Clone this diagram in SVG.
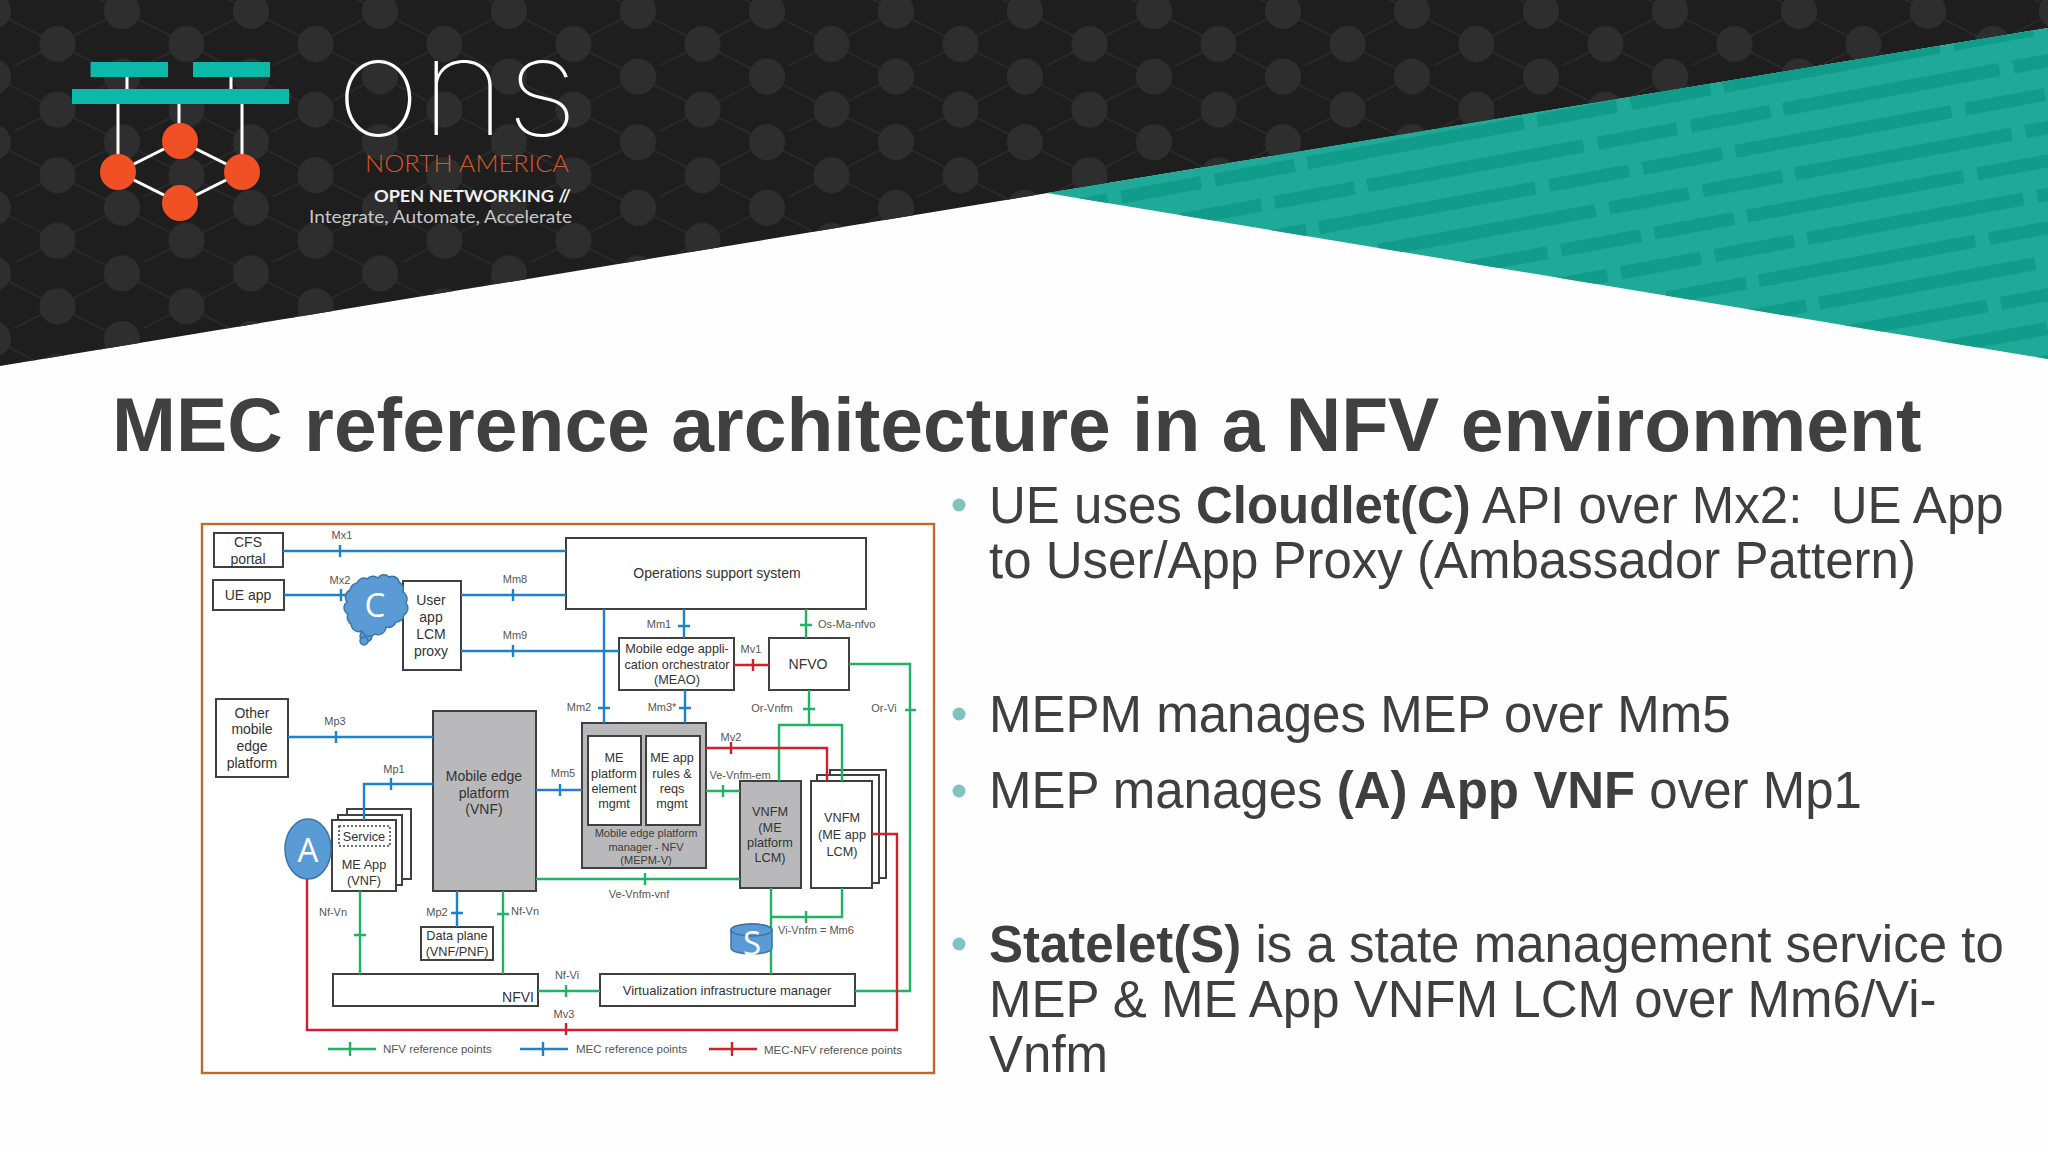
<svg xmlns="http://www.w3.org/2000/svg" width="2048" height="1152" viewBox="0 0 2048 1152">
<style>
text{font-family:"Liberation Sans",Arial,sans-serif;fill:#404040}
.t{font-size:14px;text-anchor:middle;fill:#333}
.s13{font-size:12.700px;text-anchor:middle;fill:#333}
.l{font-size:11px;text-anchor:middle;fill:#555}
.ld{font-size:11px;text-anchor:middle;fill:#3c3c3c}
.lg{font-size:11.500px;fill:#555}
.b{font-size:51px;fill:#3f3f3f}
.b tspan.s{font-weight:bold}
.n{fill:#fff;stroke:#404040;stroke-width:2}
.g{fill:#b9b9bb;stroke:#404040;stroke-width:2}
.c{fill:none;stroke-width:2.400;stroke-linejoin:miter}
.blue{stroke:#1f80cc}
.green{stroke:#1fb464}
.red{stroke:#d0202e}
.i{fill:#5b9bd5;stroke:#3b75aa;stroke-width:1.500}
.w{fill:#fff;font-family:"Open Sans",sans-serif;text-anchor:middle;font-size:33px}
.dot{fill:#7fc4c1}
.logo{fill:none;stroke:#fff;stroke-width:3}
</style>
<defs>
<pattern id="hex" width="129" height="65.600" patternUnits="userSpaceOnUse">
<path d="M-7,11 L57.500,44 L122,11 M57.500,44 L-7,76.600 M57.500,44 L122,76.600 M57.500,-21.600 L122,11 L186,-21.600 M122,11 L186,44" fill="none" stroke="#2a2a2a" stroke-width="1.800"/>
<circle cx="57.500" cy="44" r="18" fill="#2e2e2e"/>
<circle cx="122" cy="11" r="18" fill="#2e2e2e"/>
<circle cx="-7" cy="11" r="18" fill="#2e2e2e"/>
<circle cx="57.500" cy="-21.600" r="18" fill="#2e2e2e"/>
<circle cx="122" cy="76.600" r="18" fill="#2e2e2e"/>
<circle cx="-7" cy="76.600" r="18" fill="#2e2e2e"/>
</pattern>
<pattern id="dash" width="423" height="65.800" patternUnits="userSpaceOnUse" patternTransform="translate(1734,145) rotate(-10.400)">
<path fill="#119b8a" d="M0 0h220v13h-220zM234 0h81v13h-81zM329 0h81v13h-81zM55 33h220v13h-220zM289 33h81v13h-81zM384 33h39v13h-39zM0 33h42v13h-42z"/>
</pattern>
</defs>
<rect id="background" width="2048" height="1152" fill="#fefefe"/>
<g id="header">
<polygon points="0,0 2048,0 2048,28 0,366" fill="#1e1e1e"/>
<polygon points="0,0 2048,0 2048,28 0,366" fill="url(#hex)"/>
<polygon points="1047,193 2048,28 2048,359" fill="#1fa998"/>
<polygon points="1047,193 2048,28 2048,359" fill="url(#dash)"/>
</g>
<g id="logo">
<path class="logo" d="M127,77V89M231,77V89M118,104V172M179,104V141M242,104V172M118,172L180,141L242,172L180,203Z"/>
<rect x="90.500" y="62" width="77.500" height="15" fill="#0cb8a8"/>
<rect x="193" y="62" width="77" height="15" fill="#0cb8a8"/>
<rect x="72" y="89" width="217" height="15" fill="#0cb8a8"/>
<circle cx="118" cy="172" r="18" fill="#f05023"/>
<circle cx="180" cy="141" r="18" fill="#f05023"/>
<circle cx="242" cy="172" r="18" fill="#f05023"/>
<circle cx="180" cy="203" r="18" fill="#f05023"/>
<text x="336" y="135" style="font-family:Inter,sans-serif;font-weight:100;font-size:135px;fill:#fff" textLength="242" lengthAdjust="spacingAndGlyphs">ons</text>
<text x="365" y="172" style="font-family:Lato,sans-serif;font-weight:300;font-size:23px;fill:#d9552a" textLength="204" lengthAdjust="spacingAndGlyphs">NORTH AMERICA</text>
<text x="374" y="202" style="font-family:Lato,sans-serif;font-weight:bold;font-size:17px;fill:#f2f2f2" textLength="197" lengthAdjust="spacingAndGlyphs">OPEN NETWORKING //</text>
<text x="309" y="223" style="font-family:Lato,sans-serif;font-size:17px;fill:#c8c8c8" textLength="263" lengthAdjust="spacingAndGlyphs">Integrate, Automate, Accelerate</text>
</g>
<text id="title" x="112" y="451" style="font-weight:bold;font-size:76.800px">MEC reference architecture in a NFV environment</text>
<g id="bullets">
<circle class="dot" cx="959" cy="505" r="6.500"/><circle class="dot" cx="959" cy="714" r="6.500"/><circle class="dot" cx="959" cy="791" r="6.500"/><circle class="dot" cx="959" cy="944" r="6.500"/>
<text class="b" x="989" y="523" xml:space="preserve">UE uses <tspan class="s">Cloudlet(C)</tspan> API over Mx2:  UE App</text>
<text class="b" x="989" y="578">to User/App Proxy (Ambassador Pattern)</text>
<text class="b" x="989" y="732">MEPM manages MEP over Mm5</text>
<text class="b" x="989" y="808">MEP manages <tspan class="s">(A) App VNF</tspan> over Mp1</text>
<text class="b" x="989" y="962"><tspan class="s">Statelet(S)</tspan> is a state management service to</text>
<text class="b" x="989" y="1017">MEP &amp; ME App VNFM LCM over Mm6/Vi-</text>
<text class="b" x="989" y="1072">Vnfm</text>
</g>
<rect id="frame" x="202" y="524" width="732" height="549" fill="#fff" stroke="#c0692c" stroke-width="2.400"/>
<g id="cfs"><rect class="n" x="214" y="533" width="69" height="34"/><text class="t" x="248" y="547">CFS</text><text class="t" x="248" y="564">portal</text></g>
<g id="ueapp"><rect class="n" x="213" y="580" width="71" height="30"/><text class="t" x="248" y="600">UE app</text></g>
<g id="proxy"><rect class="n" x="403" y="581" width="58" height="89"/><text class="t" x="431" y="605">User</text><text class="t" x="431" y="622">app</text><text class="t" x="431" y="639">LCM</text><text class="t" x="431" y="656">proxy</text></g>
<g id="othermep"><rect class="n" x="216" y="699" width="72" height="78"/><text class="t" x="252" y="718">Other</text><text class="t" x="252" y="734">mobile</text><text class="t" x="252" y="751">edge</text><text class="t" x="252" y="768">platform</text></g>
<g id="mep"><rect class="g" x="433" y="711" width="103" height="180"/><text class="t" x="484" y="781">Mobile edge</text><text class="t" x="484" y="798">platform</text><text class="t" x="484" y="814">(VNF)</text></g>
<g id="oss"><rect class="n" x="566" y="538" width="300" height="71"/><text class="t" x="717" y="578">Operations support system</text></g>
<g id="meao"><rect class="n" x="619" y="638" width="115" height="52"/><text class="s13" x="677" y="653">Mobile edge appli-</text><text class="s13" x="677" y="669">cation orchestrator</text><text class="s13" x="677" y="684">(MEAO)</text></g>
<g id="nfvo"><rect class="n" x="769" y="638" width="80" height="52"/><text class="t" x="808" y="669">NFVO</text></g>
<g id="mepm"><rect class="g" x="582" y="723" width="124" height="145"/>
<rect class="n" x="588" y="736" width="53" height="89"/><text class="s13" x="614" y="762">ME</text><text class="s13" x="614" y="778">platform</text><text class="s13" x="614" y="793">element</text><text class="s13" x="614" y="808">mgmt</text>
<rect class="n" x="646" y="736" width="54" height="89"/><text class="s13" x="672" y="762">ME app</text><text class="s13" x="672" y="778">rules &amp;</text><text class="s13" x="672" y="793">reqs</text><text class="s13" x="672" y="808">mgmt</text>
<text class="ld" x="646" y="837">Mobile edge platform</text><text class="ld" x="646" y="851">manager - NFV</text><text class="ld" x="646" y="864">(MEPM-V)</text></g>
<g id="vnfm-mep"><rect class="g" x="740" y="781" width="61" height="107"/><text class="s13" x="770" y="816">VNFM</text><text class="s13" x="770" y="832">(ME</text><text class="s13" x="770" y="847">platform</text><text class="s13" x="770" y="862">LCM)</text></g>
<g id="vnfm-app"><rect class="n" x="830" y="770" width="56" height="108"/><rect class="n" x="817" y="775" width="62" height="108"/><rect class="n" x="811" y="781" width="61" height="107"/><text class="s13" x="842" y="822">VNFM</text><text class="s13" x="842" y="839">(ME app</text><text class="s13" x="842" y="856">LCM)</text></g>
<g id="meapp"><rect class="n" x="347" y="809" width="64" height="70"/><rect class="n" x="338" y="815" width="64" height="70"/><rect class="n" x="332" y="820" width="64" height="71"/>
<rect x="339" y="826" width="51" height="20" fill="#fff" stroke="#404040" stroke-width="1.500" stroke-dasharray="2 2"/><text class="s13" x="364" y="841">Service</text><text class="s13" x="364" y="869">ME App</text><text class="s13" x="364" y="885">(VNF)</text></g>
<g id="dataplane"><rect class="n" x="421" y="927" width="72" height="33"/><text class="s13" x="457" y="940">Data plane</text><text class="s13" x="457" y="956">(VNF/PNF)</text></g>
<g id="nfvi"><rect class="n" x="333" y="974" width="205" height="32"/><text class="t" x="534" y="1002" style="text-anchor:end">NFVI</text></g>
<g id="vim"><rect class="n" x="600" y="974" width="255" height="32"/><text class="s13" x="727" y="995" style="font-size:13px">Virtualization infrastructure manager</text></g>
<g id="connectors">
<path class="c blue" d="M283,551H566M340,545V557M284,595H352M341,589V601M461,595H566M513,589V601M461,651H619M513,645V657M604,609V723M598,708H610M684,609V638M678,626H690M685,690V723M679,708H691M288,737H433M336,731V743M433,784H364V820M391,778V790M536,790H582M560,784V796M457,891V927M451,913H463"/>
<path class="c green" d="M360,891V974M354,935H366M503,891V974M497,914H509M536,879H740M645,873V885M706,791H740M723,785V797M538,991H600M566,985V997M855,991H910V664H849M905,710H916M806,609V638M800,625H812M809,690V725M803,709H815M779,781V725H842V781M771,888V974M771,917H842V888M806,911V923"/>
<path class="c red" d="M734,665H769M753,659V671M706,748H827V781M731,742V754M307,879V1030H897V834H872M566,1023V1035"/>
<path class="c green" d="M328,1049H376M350,1042V1056"/>
<path class="c blue" d="M520,1049H568M543,1042V1056"/>
<path class="c red" d="M709,1049H757M732,1042V1056"/>
</g>
<g id="labels">
<text class="l" x="342" y="539">Mx1</text><text class="l" x="340" y="584">Mx2</text><text class="l" x="515" y="583">Mm8</text><text class="l" x="515" y="639">Mm9</text><text class="l" x="335" y="725">Mp3</text><text class="l" x="394" y="773">Mp1</text><text class="l" x="563" y="777">Mm5</text><text class="l" x="579" y="711">Mm2</text><text class="l" x="659" y="628">Mm1</text><text class="l" x="662" y="711">Mm3*</text><text class="l" x="751" y="653">Mv1</text><text class="l" x="818" y="628" style="text-anchor:start">Os-Ma-nfvo</text><text class="l" x="772" y="712">Or-Vnfm</text><text class="l" x="884" y="712">Or-Vi</text><text class="l" x="731" y="741">Mv2</text><text class="l" x="740" y="779">Ve-Vnfm-em</text><text class="l" x="639" y="898">Ve-Vnfm-vnf</text><text class="l" x="778" y="934" style="text-anchor:start">Vi-Vnfm = Mm6</text><text class="l" x="333" y="916">Nf-Vn</text><text class="l" x="437" y="916">Mp2</text><text class="l" x="525" y="915">Nf-Vn</text><text class="l" x="567" y="979">Nf-Vi</text><text class="l" x="564" y="1018">Mv3</text>
<text class="lg" x="383" y="1053">NFV reference points</text><text class="lg" x="576" y="1053">MEC reference points</text><text class="lg" x="764" y="1054">MEC-NFV reference points</text>
</g>
<g id="cloudlet"><circle class="i" cx="366" cy="636" r="6"/><circle class="i" cx="364" cy="641" r="4"/><path class="i" d="M350,590A9,9 0 0 1 357,583A7,7 0 0 1 367,579A8,8 0 0 1 378,578A7,7 0 0 1 389,577A7,7 0 0 1 399,582A9,9 0 0 1 403,592A8,8 0 0 1 406,603A8,8 0 0 1 404,615A8,8 0 0 1 396,622A8,8 0 0 1 386,627A8,8 0 0 1 375,634A8,8 0 0 1 362,631A8,8 0 0 1 351,624A8,8 0 0 1 348,614A7,7 0 0 1 347,602A8,8 0 0 1 350,590Z"/><text class="w" x="375" y="617">C</text></g>
<g id="appvnf"><ellipse class="i" cx="308" cy="849" rx="23" ry="30"/><text class="w" x="308" y="862">A</text></g>
<g id="statelet"><path class="i" d="M731,930A20.500,6 0 0 1 772,930V948A20.500,6 0 0 1 731,948Z"/><ellipse class="i" cx="751.500" cy="930" rx="20.500" ry="6"/><text class="w" x="752" y="955">S</text></g>
</svg>
